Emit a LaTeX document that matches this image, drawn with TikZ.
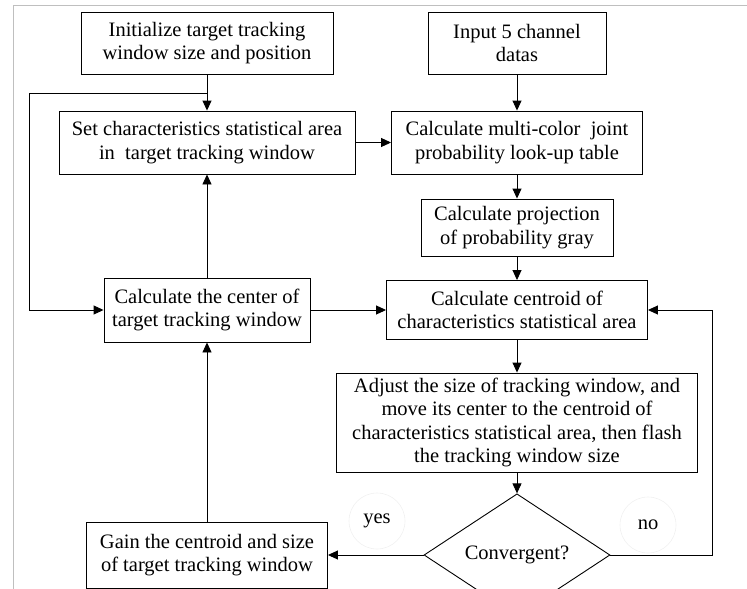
\documentclass[tikz,border=0pt]{standalone}
\usepackage{fontspec}
\setmainfont{Liberation Serif}
\usepackage{tikz}
\usetikzlibrary{shapes.geometric,arrows.meta}

\begin{document}
\begin{tikzpicture}[x=1pt,y=-1pt,
    stepbox/.style={draw,line width=0.9pt,fill=white,align=center,
        inner sep=0pt,font=\fontsize{20.5}{23.5}\selectfont},
    decision/.style={draw,diamond,line width=0.9pt,fill=white,inner sep=0pt,
        minimum width=186pt,minimum height=72pt,font=\fontsize{20.5}{23.5}\selectfont},
    answer/.style={circle,draw=black!6,line width=0.6pt,minimum size=56pt,
        inner sep=0pt,font=\fontsize{20.5}{23.5}\selectfont},
    flow/.style={->,>={Triangle[length=10pt,width=9pt]},draw,line width=0.9pt}
]
    \useasboundingbox (0,0) rectangle (747,589);
    \draw[black!25,line width=0.8pt] (13,589) -- (13,5) -- (747,5);

    \node[stepbox,minimum width=252pt,minimum height=62pt] (init) at (207,43)
        {Initialize target tracking\\window size and position};
    \node[stepbox,minimum width=178pt,minimum height=62pt] (input) at (517,43)
        {Input 5 channel\\datas};
    \node[stepbox,minimum width=296pt,minimum height=63pt] (set) at (207,142.5)
        {Set characteristics statistical area\\in\ \ target tracking window};
    \node[stepbox,minimum width=251pt,minimum height=63pt] (lut) at (517,142.5)
        {Calculate multi-color\ \ joint\\probability look-up table};
    \node[stepbox,minimum width=192pt,minimum height=57pt] (proj) at (517,227.5)
        {Calculate projection\\of probability gray};
    \node[stepbox,minimum width=206pt,minimum height=64pt] (center) at (207,310)
        {Calculate the center of\\target tracking window};
    \node[stepbox,minimum width=261pt,minimum height=59pt] (centroid) at (517,310)
        {Calculate centroid of\\characteristics statistical area};
    \node[stepbox,minimum width=361pt,minimum height=99pt] (adjust) at (517,422.5)
        {Adjust the size of tracking window, and\\move its center to the centroid of\\
         characteristics statistical area, then flash\\the tracking window size};
    \node[decision] (conv) at (517,555) {Convergent?};
    \node[stepbox,minimum width=241pt,minimum height=66pt] (gain) at (207,555)
        {Gain the centroid and size\\of target tracking window};

    \node[answer] (yes) at (377,521) {yes};
    \node[answer] (no) at (648,525) {no};

    \coordinate (split) at (207,93);
    \coordinate (lefttop) at (29,93);
    \coordinate (leftbot) at (29,310);
    \coordinate (rightx) at (712,310);

    \draw[flow] (init) -- (set);
    \draw[flow] (split) -- (lefttop) -- (leftbot) -- (center.west);
    \draw[flow] (set) -- (lut);
    \draw[flow] (input) -- (lut);
    \draw[flow] (lut) -- (proj);
    \draw[flow] (proj) -- (centroid);
    \draw[flow] (center) -- (set);
    \draw[flow] (center) -- (centroid);
    \draw[flow] (centroid) -- (adjust);
    \draw[flow] (adjust) -- (conv);
    \draw[flow] (conv.east) -| (rightx) -- (centroid.east);
    \draw[flow] (conv) -- (gain);
    \draw[flow] (gain) -- (center);
\end{tikzpicture}
\end{document}
